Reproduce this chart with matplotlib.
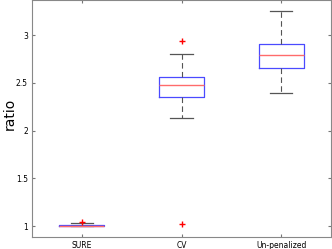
import matplotlib
matplotlib.use("Agg")
import matplotlib.pyplot as plt

labels = ["SURE", "CV", "Un-penalized"]
medians = [1.005, 2.476, 2.79]
q1 = [0.998, 2.35, 2.65]
q3 = [1.015, 2.56, 2.91]
whislo = [0.995, 2.13, 2.39]
whishi = [1.03, 2.80, 3.255]
fliers = [[1.045], [2.94, 1.02], []]

stats = []
for i in range(len(labels)):
    stats.append(dict(label=labels[i], med=medians[i], q1=q1[i], q3=q3[i],
                      whislo=whislo[i], whishi=whishi[i], fliers=fliers[i]))

fig = plt.figure(figsize=(3.32, 2.49), dpi=100)
ax = fig.add_axes([32/332, 12/249, 299/332, 237/249])

ax.bxp(stats, widths=0.45, showfliers=True,
       boxprops=dict(color="#4a4aff", linewidth=0.9),
       medianprops=dict(color="#ff6b6b", linewidth=1.0),
       whiskerprops=dict(color="#555555", linestyle=(0, (5, 3)), linewidth=0.8),
       capprops=dict(color="#555555", linewidth=0.9),
       flierprops=dict(marker="+", markeredgecolor="red", markersize=4, markeredgewidth=1.0))

ax.set_xlim(0.5, 3.5)
ax.set_ylim(0.885, 3.367)
ax.set_yticks([1, 1.5, 2, 2.5, 3])
ax.set_yticklabels(["1", "1.5", "2", "2.5", "3"])
ax.tick_params(axis="both", labelsize=5.5, direction="in", length=2.5, color="#777777",
               top=True, right=True, pad=3)
for s in ax.spines.values():
    s.set_color("#888888")
    s.set_linewidth(0.8)
ax.set_ylabel("ratio", fontsize=10)
ax.yaxis.set_label_coords(-0.05, 0.52)

plt.savefig("out.png", dpi=100)
